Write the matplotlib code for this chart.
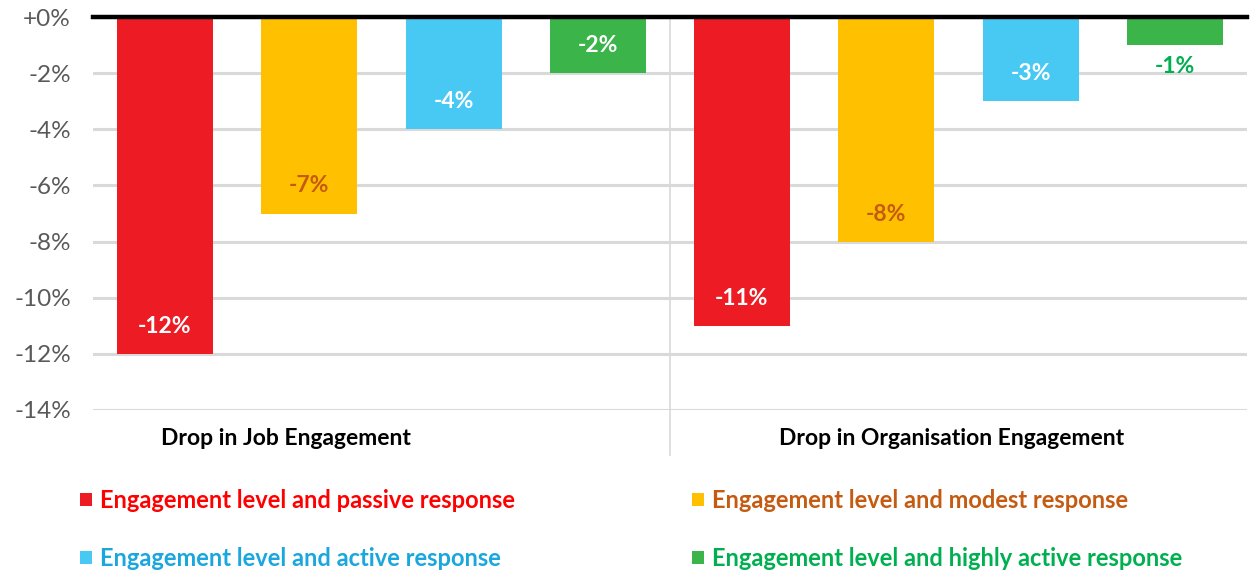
import matplotlib
matplotlib.use("Agg")
import matplotlib.pyplot as plt
import numpy as np
from matplotlib.patches import Patch

categories = ["Drop in Job Engagement", "Drop in Organisation Engagement"]
series_names = [
    "Engagement level and passive response",
    "Engagement level and modest response",
    "Engagement level and active response",
    "Engagement level and highly active response",
]
passive = [-12, -11]
modest = [-7, -8]
active = [-4, -3]
highly_active = [-2, -1]
yticks = [0, -2, -4, -6, -8, -10, -12, -14]
ytick_labels = ["+0%", "-2%", "-4%", "-6%", "-8%", "-10%", "-12%", "-14%"]

series = [passive, modest, active, highly_active]
bar_colors = ["#ED1C24", "#FFC000", "#47C9F4", "#3BB44A"]
text_colors = ["#FF0000", "#C55A11", "#1AA7DE", "#00B050"]
value_colors = ["white", "#C55A11", "white", "white"]

plt.rcParams['font.family'] = ['Lato', 'DejaVu Sans']

fig = plt.figure(figsize=(12.54, 5.71), dpi=100)
ax = fig.add_axes([93/1254, 1-410/571, 1154/1254, 393/571])

x = np.arange(len(categories))
pitch = 0.2505
width = 0.167
offsets = [-1.5*pitch, -0.5*pitch, 0.5*pitch, 1.5*pitch]

for i, (vals, off) in enumerate(zip(series, offsets)):
    bars = ax.bar(x + off, vals, width, color=bar_colors[i], zorder=2)
    for b, v in zip(bars, vals):
        cx = b.get_x() + b.get_width()/2
        if abs(v) >= 2:
            ax.text(cx, v + 0.98, f"{v}%", ha='center', va='center',
                    fontsize=16.5, fontweight='bold', color=value_colors[i], zorder=3)
        else:
            ax.text(cx, v - 0.75, f"{v}%", ha='center', va='center',
                    fontsize=16.5, fontweight='bold', color=text_colors[i], zorder=3)

ax.set_xlim(-0.5, 1.5)
ax.set_ylim(-14, 0)
ax.set_yticks(yticks)
ax.set_yticklabels(ytick_labels, fontsize=17.5, color="#595959")
ax.yaxis.grid(True, color="#D9D9D9", lw=2.2, zorder=0)
ax.set_axisbelow(True)
ax.tick_params(axis='y', length=0, pad=16)
ax.set_xticks([])
# category labels (as placed in the reference)
cat_x = [-0.165, 0.988]
for cx, lab in zip(cat_x, categories):
    ax.text(cx, -15.0, lab, ha='center', va='center', fontsize=16.5,
            fontweight='bold', color='black', clip_on=False)
for s in ax.spines.values():
    s.set_visible(False)

# zero line
ax.axhline(0, color='black', lw=3.2, zorder=4, clip_on=False)
# separator between categories
ax.plot([0.5, 0.5], [0, -15.6], color="#D9D9D9", lw=1.2, clip_on=False, zorder=1)

handles = [Patch(facecolor=c, edgecolor='none') for c in bar_colors]
order = [0, 2, 1, 3]
leg = fig.legend([handles[k] for k in order], [series_names[k] for k in order],
                 ncol=2, loc='upper left',
                 bbox_to_anchor=(80/1254, 1-489/571), frameon=False,
                 prop={'size': 17, 'weight': 'bold'},
                 handlelength=0.5, handleheight=0.5, handletextpad=0.35,
                 columnspacing=7.5, labelspacing=1.47, borderaxespad=0, borderpad=0)
for t, k in zip(leg.get_texts(), order):
    t.set_color(text_colors[k])

fig.savefig("out.png", dpi=100)
